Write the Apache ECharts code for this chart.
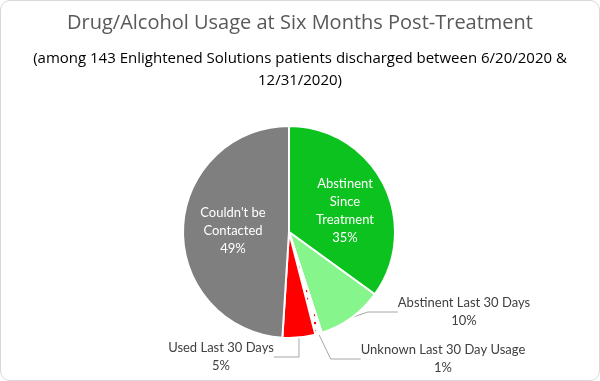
<!DOCTYPE html>
<html>
<head>
<meta charset="utf-8">
<script src="https://cdn.jsdelivr.net/npm/echarts@6/dist/echarts.min.js"></script>
<style>
html,body{margin:0;padding:0;background:#fff;}
#wrap{position:absolute;left:0;top:0;width:598px;height:379px;border:1px solid #d9d9d9;border-radius:10px;overflow:hidden;background:#fff;}
#chart{width:598px;height:379px;}
</style>
</head>
<body>
<div id="wrap"><div id="chart"></div></div>
<script>
var titleText = 'Drug/Alcohol Usage at Six Months Post-Treatment';
var subtitleText = '(among 143 Enlightened Solutions patients discharged between 6/20/2020 &\n12/31/2020)';
var categories = ['Abstinent\nSince\nTreatment', 'Abstinent Last 30 Days', 'Unknown Last 30 Day Usage', 'Used Last 30 Days', "Couldn't be\nContacted"];
var values = [35, 10, 1, 5, 49];
var colors = ['#0cc21f', '#86f58c', '#ffffff', '#ff0000', '#7f7f7f'];
var FONT = '"Open Sans", sans-serif';
var LFONT = 'Lato, sans-serif';

var labelPos = [[344, 210], [463, 311], [442, 358], [220, 356], [232, 230]];

var data = categories.map(function (c, i) {
  var d = {name: c, value: values[i], itemStyle: {color: colors[i]}};
  if (i === 0 || i === 4) {
    d.label = {position: 'inside', color: '#ffffff'};
    d.labelLine = {show: false};
  }
  if (i === 2) {
    d.itemStyle.decal = {symbol: 'circle', symbolSize: 0.6, color: '#ff0000', backgroundColor: '#ffffff', dashArrayX: 4, dashArrayY: 4};
  }
  return d;
});

var chart = echarts.init(document.getElementById('chart'), null, {renderer: 'canvas'});
chart.setOption({
  animation: false,
  graphic: [
    {type: 'text', left: 'center', top: 12, style: {text: titleText, font: '20px ' + FONT, fill: '#595959', textAlign: 'center'}},
    {type: 'text', left: 'center', top: 47, style: {text: subtitleText, font: '15px ' + FONT, fill: '#000000', textAlign: 'center', lineHeight: 22}}
  ],
  series: [{
    type: 'pie',
    center: [288, 231],
    radius: [0, 106],
    startAngle: 90,
    clockwise: true,
    data: data,
    itemStyle: {borderColor: '#ffffff', borderWidth: 2},
    label: {
      show: true,
      position: 'outside',
      formatter: '{b}\n{d}%',
      fontFamily: LFONT,
      fontSize: 13,
      lineHeight: 18,
      color: '#404040',
      align: 'center'
    },
    labelLine: {show: true, lineStyle: {color: '#a6a6a6', width: 1}},
    labelLayout: function (p) {
      var pos = labelPos[p.dataIndex];
      return {x: pos[0], y: pos[1], align: 'center', verticalAlign: 'middle'};
    }
  }]
});
</script>
</body>
</html>
